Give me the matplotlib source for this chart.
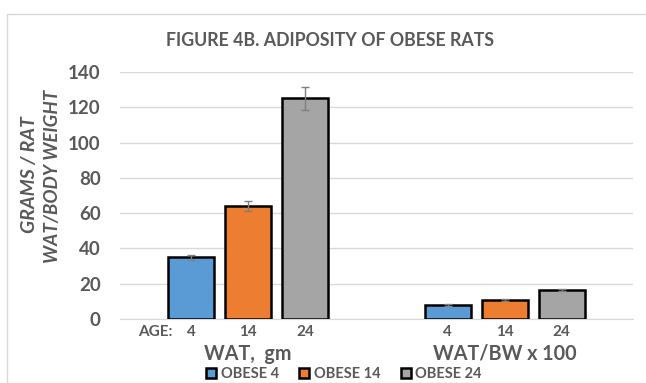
import matplotlib
matplotlib.use("Agg")
import matplotlib.pyplot as plt
import numpy as np
from matplotlib.patches import Rectangle
from matplotlib.transforms import blended_transform_factory

plt.rcParams['font.family'] = ['Lato', 'DejaVu Sans']

# Data
groups = ["WAT,  gm", "WAT/BW x 100"]
series = ["OBESE 4", "OBESE 14", "OBESE 24"]
ages = ["4", "14", "24"]
values = {
    "OBESE 4": [35, 8],
    "OBESE 14": [64, 10.8],
    "OBESE 24": [125, 16.5],
}
errors = {
    "OBESE 4": [1.5, 0.4],
    "OBESE 14": [3, 0.5],
    "OBESE 24": [6.5, 0.7],
}
colors = ["#5b9bd5", "#ed7d31", "#a5a5a5"]
yticks = [0, 20, 40, 60, 80, 100, 120, 140]

text_color = "#595959"

fig = plt.figure(figsize=(6.46, 3.83), dpi=100)
fig.patches.append(Rectangle((7 / 646, 0), 1, 1 - 14 / 383, transform=fig.transFigure,
                             fill=False, edgecolor="#d9d9d9", linewidth=1))
ax = fig.add_axes([120 / 646, 1 - 319 / 383, 513 / 646, (319 - 72) / 383])

x = np.arange(len(groups))
width = 0.18
step = 0.222
offsets = [-step, 0, step]
tick_pos, tick_lab = [], []
for i, s in enumerate(series):
    pos = x + offsets[i]
    ax.bar(pos, values[s], width=width, color=colors[i], edgecolor="black",
           linewidth=1.8, label=s, zorder=3)
    ax.errorbar(pos, values[s], yerr=errors[s], fmt="none", ecolor="#7f7f7f",
                elinewidth=1, capsize=3, capthick=1, zorder=4)
    tick_pos.extend(pos)
    tick_lab.extend([ages[i]] * len(groups))

ax.set_xlim(-0.5, 1.5)
ax.set_ylim(0, 140)
ax.set_yticks(yticks)
ax.set_yticklabels([str(t) for t in yticks], fontsize=13.5, fontweight="bold", color=text_color)
ax.set_xticks(tick_pos)
ax.set_xticklabels(tick_lab, fontsize=11, fontweight="bold", color=text_color)
ax.tick_params(axis="both", length=0)
ax.tick_params(axis="x", pad=4)
ax.tick_params(axis="y", pad=14)
ax.grid(axis="y", color="#d9d9d9", linewidth=1, zorder=0)
ax.set_axisbelow(True)
for side in ["left", "right", "top"]:
    ax.spines[side].set_visible(False)
ax.spines["bottom"].set_color("#d9d9d9")

trans = blended_transform_factory(ax.transData, ax.transAxes)
ax.text(-step - 0.075, -0.025, "AGE:", transform=trans, ha="right", va="top",
        fontsize=11, fontweight="bold", color=text_color)
for gi, g in enumerate(groups):
    ax.text(x[gi], -0.1, g, transform=trans, ha="center", va="top",
            fontsize=14.2, fontweight="bold", color=text_color)

fig.text(330 / 646, 1 - 40 / 383, "FIGURE 4B. ADIPOSITY OF OBESE RATS", ha="center",
         va="center", fontsize=12.8, fontweight="bold", color=text_color)
fig.text(30 / 646, 1 - 175 / 383, "GRAMS / RAT", rotation=90, ha="center", va="center",
         fontsize=14, fontweight="bold", style="italic", color=text_color)
fig.text(53 / 646, 1 - 176 / 383, "WAT/BODY WEIGHT", rotation=90, ha="center", va="center",
         fontsize=13.5, fontweight="bold", style="italic", color=text_color)

fig.legend(loc="center", bbox_to_anchor=(344 / 646, 1 - 374 / 383), ncol=3, frameon=False,
           handlelength=0.7, handleheight=0.7, handletextpad=0.3,
           columnspacing=1.4, labelcolor=text_color, prop={"weight": "bold", "size": 10.5})

fig.savefig("out.png", dpi=100)
